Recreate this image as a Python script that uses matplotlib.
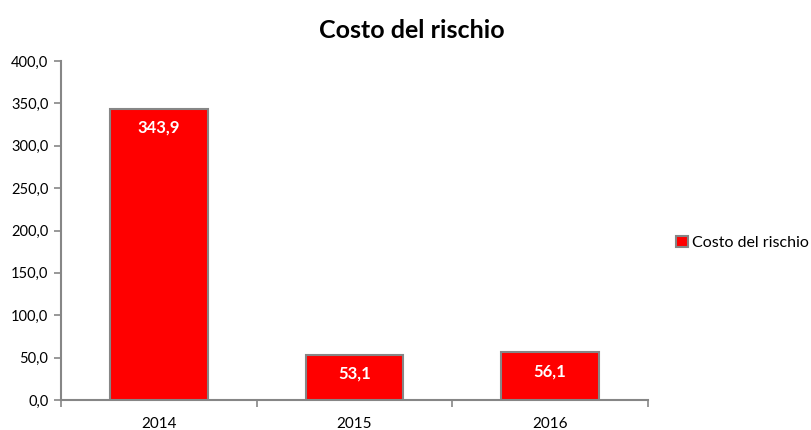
import matplotlib
matplotlib.use("Agg")
import matplotlib.pyplot as plt
from matplotlib.patches import Patch

years = ["2014", "2015", "2016"]
costo = [343.9, 53.1, 56.1]
y_ticks = [0, 50, 100, 150, 200, 250, 300, 350, 400]

plt.rcParams["font.family"] = ["Lato", "DejaVu Sans"]
grey = "#868686"

fig = plt.figure(figsize=(8.12, 4.30), dpi=100)
ax = fig.add_axes([61 / 812, 30 / 430, 587 / 812, 339 / 430])

x = list(range(len(years)))
bars = ax.bar(x, costo, width=0.5, color="#ff0000", edgecolor=grey, linewidth=1.5,
              label="Costo del rischio", zorder=3)

# value labels inside the top of each bar
for b, v in zip(bars, costo):
    ax.annotate(f"{v:.1f}".replace(".", ","), (b.get_x() + b.get_width() / 2, v),
                xytext=(0, -19), textcoords="offset pixels", ha="center", va="center",
                color="white", fontsize=12, fontweight="bold", zorder=4)

ax.set_xlim(-0.5, len(years) - 0.5)
ax.set_ylim(0, 400)
ax.set_yticks(y_ticks)
ax.set_yticklabels([f"{t:.1f}".replace(".", ",") for t in y_ticks], fontsize=10.5)
ax.set_xticks(x)
ax.set_xticklabels(years, fontsize=11)
ax.tick_params(axis="x", length=0, pad=12)
ax.set_xticks([-0.5, 0.5, 1.5, 2.5], minor=True)
ax.tick_params(axis="x", which="minor", length=5, color=grey, width=1.2)
ax.tick_params(axis="y", length=5, color=grey, width=1.2, pad=4)

for s in ["top", "right"]:
    ax.spines[s].set_visible(False)
for s in ["left", "bottom"]:
    ax.spines[s].set_color(grey)
    ax.spines[s].set_linewidth(1.5)

fig.text(412 / 812, 1 - 30 / 430, "Costo del rischio", ha="center", va="center",
         fontsize=18, fontweight="bold")

handle = Patch(facecolor="#ff0000", edgecolor=grey, linewidth=1.5)
fig.legend([handle], ["Costo del rischio"], loc="center left",
           bbox_to_anchor=(662 / 812, 1 - 243 / 430), frameon=False, fontsize=11.5,
           handlelength=0.7, handleheight=0.7, handletextpad=0.3)

fig.savefig("out.png", dpi=100)
